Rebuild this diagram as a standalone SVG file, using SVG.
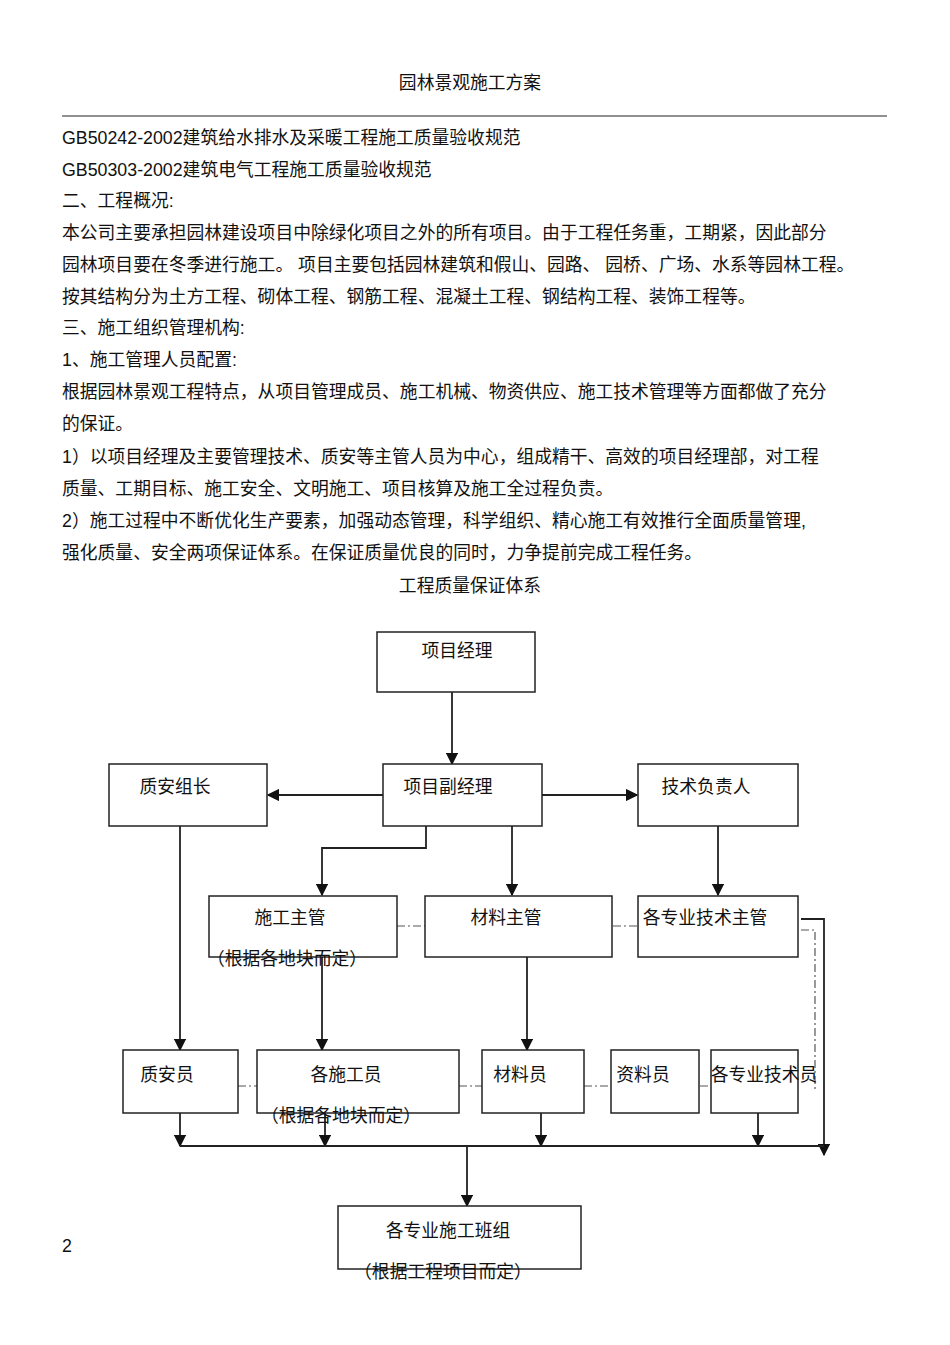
<svg xmlns="http://www.w3.org/2000/svg" width="950" height="1345" viewBox="0 0 950 1345">
<style>
text{font-family:"Liberation Sans","Noto Sans CJK SC",sans-serif;font-size:17.8px;fill:#111}
.b{fill:#fff;stroke:#222;stroke-width:1.5}
.l{fill:none;stroke:#222;stroke-width:1.8}
.d{fill:none;stroke:#555;stroke-width:1.2;stroke-dasharray:8 3 2 3}
</style>
<defs><marker id="a" viewBox="0 0 10 10" refX="9" refY="5" markerWidth="7" markerHeight="7" orient="auto"><path d="M0,0L10,5L0,10z" fill="#111"/></marker></defs>
<rect width="950" height="1345" fill="#fff"/>
<text x="470" y="89" text-anchor="middle">园林景观施工方案</text>
<line x1="62" y1="116" x2="887" y2="116" stroke="#222" stroke-width="1"/>
<text x="62" y="144">GB50242-2002建筑给水排水及采暖工程施工质量验收规范</text>
<text x="62" y="176">GB50303-2002建筑电气工程施工质量验收规范</text>
<text x="62" y="207">二、工程概况:</text>
<text x="62" y="239">本公司主要承担园林建设项目中除绿化项目之外的所有项目。由于工程任务重，工期紧，因此部分</text>
<text x="62" y="271">园林项目要在冬季进行施工。   项目主要包括园林建筑和假山、园路、   园桥、广场、水系等园林工程。</text>
<text x="62" y="303">按其结构分为土方工程、砌体工程、钢筋工程、混凝土工程、钢结构工程、装饰工程等。</text>
<text x="62" y="334">三、施工组织管理机构:</text>
<text x="62" y="366">1、施工管理人员配置:</text>
<text x="62" y="398">根据园林景观工程特点，从项目管理成员、施工机械、物资供应、施工技术管理等方面都做了充分</text>
<text x="62" y="430">的保证。</text>
<text x="62" y="463">1）以项目经理及主要管理技术、质安等主管人员为中心，组成精干、高效的项目经理部，对工程</text>
<text x="62" y="495">质量、工期目标、施工安全、文明施工、项目核算及施工全过程负责。</text>
<text x="62" y="527">2）施工过程中不断优化生产要素，加强动态管理，科学组织、精心施工有效推行全面质量管理,</text>
<text x="62" y="559">强化质量、安全两项保证体系。在保证质量优良的同时，力争提前完成工程任务。</text>
<text x="470" y="592" text-anchor="middle">工程质量保证体系</text>
<text x="62" y="1252">2</text>
<g id="connectors">
<path class="l" d="M452,692V764" marker-end="url(#a)"/>
<path class="l" d="M383,795H268" marker-end="url(#a)"/>
<path class="l" d="M542,795H637" marker-end="url(#a)"/>
<path class="l" d="M426,826V848H322V895" marker-end="url(#a)"/>
<path class="l" d="M512,826V895" marker-end="url(#a)"/>
<path class="l" d="M718,826V895" marker-end="url(#a)"/>
<path class="l" d="M180,826V1050" marker-end="url(#a)"/>
<path class="l" d="M322,957V1050" marker-end="url(#a)"/>
<path class="l" d="M527,957V1050" marker-end="url(#a)"/>
<path class="d" d="M397,926H425M613,926H642M801,930H815V1092"/>
<path class="d" d="M238,1086H257M459,1086H483M584,1086H613M700,1086H714"/>
<path class="l" d="M801,919H824V1155" marker-end="url(#a)"/>
<path class="l" d="M180,1113V1146" marker-end="url(#a)"/>
<path class="l" d="M325,1113V1146" marker-end="url(#a)"/>
<path class="l" d="M541,1113V1146" marker-end="url(#a)"/>
<path class="l" d="M758,1113V1146" marker-end="url(#a)"/>
<path class="l" d="M180,1146H824"/>
<path class="l" d="M467,1146V1206" marker-end="url(#a)"/>
</g>
<g id="n1"><rect class="b" x="377" y="632" width="158" height="60"/><text x="457" y="657" text-anchor="middle">项目经理</text></g>
<g id="n2"><rect class="b" x="109" y="764" width="158" height="62"/><text x="175" y="793" text-anchor="middle">质安组长</text></g>
<g id="n3"><rect class="b" x="383" y="764" width="159" height="62"/><text x="448" y="793" text-anchor="middle">项目副经理</text></g>
<g id="n4"><rect class="b" x="638" y="764" width="160" height="62"/><text x="706" y="793" text-anchor="middle">技术负责人</text></g>
<g id="n5"><rect class="b" x="209" y="896" width="188" height="61"/><text x="290" y="924" text-anchor="middle">施工主管</text><text x="287" y="965" text-anchor="middle">（根据各地块而定）</text></g>
<g id="n6"><rect class="b" x="425" y="896" width="187" height="61"/><text x="506" y="924" text-anchor="middle">材料主管</text></g>
<g id="n7"><rect class="b" x="638" y="896" width="160" height="61"/><text x="705" y="924" text-anchor="middle">各专业技术主管</text></g>
<g id="n8"><rect class="b" x="123" y="1050" width="115" height="63"/><text x="167" y="1081" text-anchor="middle">质安员</text></g>
<g id="n9"><rect class="b" x="257" y="1050" width="202" height="63"/><text x="346" y="1081" text-anchor="middle">各施工员</text><text x="341" y="1122" text-anchor="middle">（根据各地块而定）</text></g>
<g id="n10"><rect class="b" x="482" y="1050" width="102" height="63"/><text x="520" y="1081" text-anchor="middle">材料员</text></g>
<g id="n11"><rect class="b" x="611" y="1050" width="88" height="63"/><text x="643" y="1081" text-anchor="middle">资料员</text></g>
<g id="n12"><rect class="b" x="711" y="1050" width="87" height="63"/><text x="764" y="1081" text-anchor="middle">各专业技术员</text></g>
<g id="n13"><rect class="b" x="338" y="1206" width="243" height="63"/><text x="448" y="1237" text-anchor="middle">各专业施工班组</text><text x="443" y="1278" text-anchor="middle">（根据工程项目而定）</text></g>
</svg>
